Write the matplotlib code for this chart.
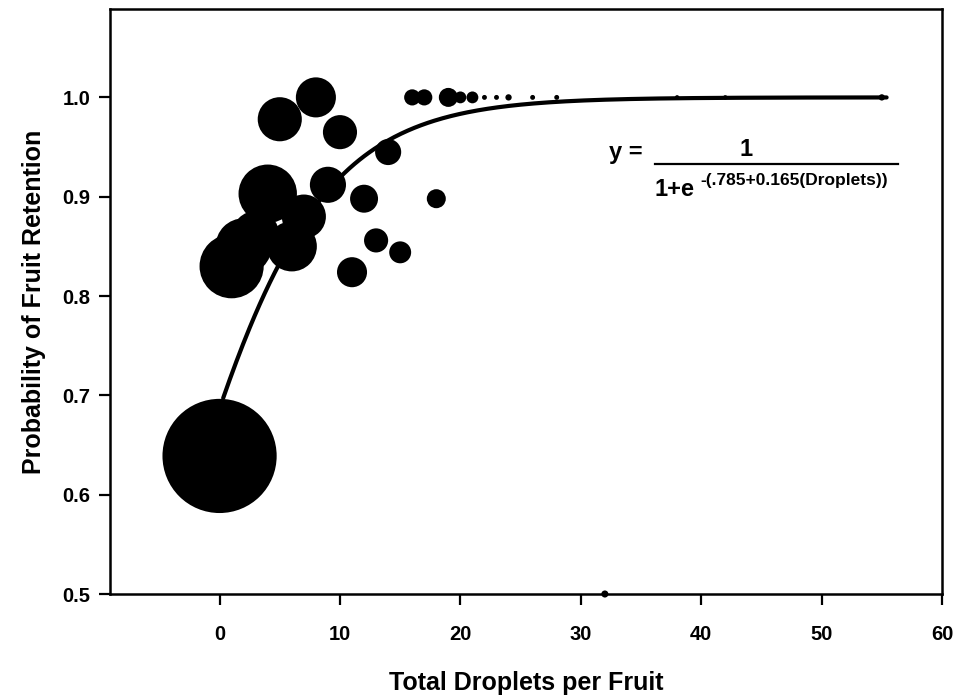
import numpy as np
import matplotlib
matplotlib.use("Agg")
import matplotlib.pyplot as plt

plt.rcParams['font.family'] = ['Liberation Sans', 'DejaVu Sans']

# Observed retention by number of droplets per fruit; n = number of fruit in each class
droplets = [0, 1, 2, 3, 4, 6, 7, 5, 8, 9, 10, 11, 12, 13, 14, 15, 16, 17, 18, 19,
            20, 21, 22, 23, 24, 26, 28, 32, 38, 42, 55]
retention = [0.639, 0.830, 0.850, 0.862, 0.903, 0.850, 0.880, 0.978, 1.000, 0.912, 0.965,
             0.824, 0.898, 0.856, 0.945, 0.844, 1.000, 1.000, 0.898, 1.000,
             1.000, 1.000, 1.000, 1.000, 1.000, 1.000, 1.000, 0.500, 1.000, 1.000, 1.000]
n_fruit = [650, 205, 157, 110, 170, 125, 97, 97, 80, 65, 58,
           45, 39, 29, 34, 24, 13, 13, 18, 18,
           7, 7, 1.2, 1.2, 2, 1.2, 1.2, 2.5, 1, 1, 2]

# Fitted logistic model
intercept = 0.785
slope = 0.165
fit_range = [0.3, 55.4]

x_ticks = [0, 10, 20, 30, 40, 50, 60]
y_ticks = [0.5, 0.6, 0.7, 0.8, 0.9, 1.0]

fig = plt.figure(figsize=(9.6, 7.0), dpi=100)
ax = fig.add_axes([110 / 960, 1 - 594 / 700, (942 - 110) / 960, (594 - 9) / 700])

sizes = np.array(n_fruit) * 10.4
ax.scatter(droplets, retention, s=sizes, c='black', edgecolors='none', zorder=2,
           clip_on=False)

xf = np.linspace(fit_range[0], fit_range[1], 400)
yf = 1.0 / (1.0 + np.exp(-(intercept + slope * xf)))
ax.plot(xf, yf, color='black', lw=3.0, solid_capstyle='round', zorder=3)

ax.set_xlim(-9.1, 60)
ax.set_ylim(0.5, 1.089)
ax.set_xticks(x_ticks)
ax.set_yticks(y_ticks)
ax.set_xticklabels([str(v) for v in x_ticks])
ax.set_yticklabels([f"{v:.1f}" for v in y_ticks])

for sp in ax.spines.values():
    sp.set_linewidth(1.8)
ax.tick_params(axis='both', direction='out', length=8, width=1.6,
               labelsize=14.5, pad=6)
for lab in ax.get_xticklabels() + ax.get_yticklabels():
    lab.set_fontweight('bold')
ax.tick_params(axis='x', pad=14)

ax.set_xlabel('Total Droplets per Fruit', fontsize=18, fontweight='bold', labelpad=20)
ax.set_ylabel('Probability of Fruit Retention', fontsize=18, fontweight='bold', labelpad=12)


def fpos(px, py):
    return px / 960, 1 - py / 700


# Equation of the fitted curve
fig.text(*fpos(626, 152), 'y =', fontsize=17, fontweight='bold', ha='center', va='center')
fig.text(*fpos(746, 150), '1', fontsize=17, fontweight='bold', ha='center', va='center')
fig.add_artist(plt.Line2D([655 / 960, 898 / 960], [1 - 164 / 700, 1 - 164 / 700],
                          color='black', lw=1.6))
fig.text(*fpos(654, 190), '1+e', fontsize=17, fontweight='bold', ha='left', va='center')
fig.text(*fpos(700, 181), '-(.785+0.165(Droplets))', fontsize=12.5, fontweight='bold',
         ha='left', va='center')

fig.savefig('out.png', dpi=100)
